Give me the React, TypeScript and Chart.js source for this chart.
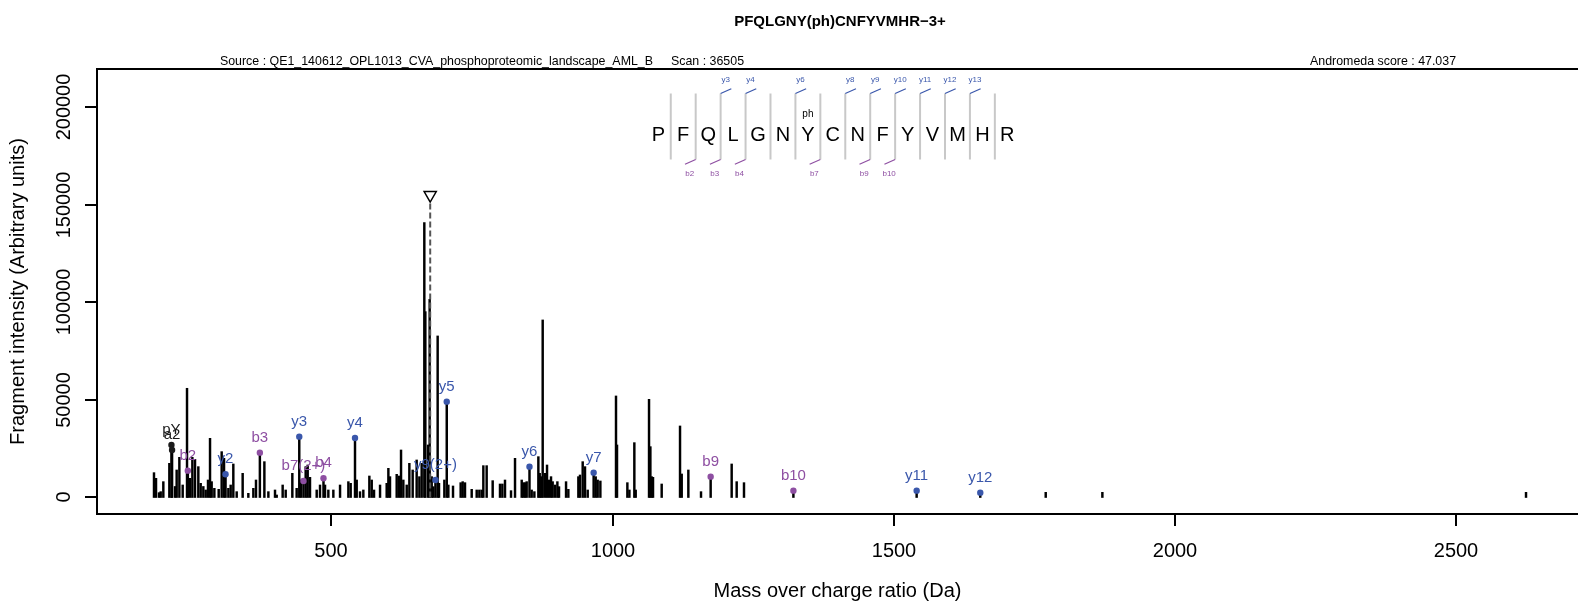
import React, { useEffect, useRef } from 'react';
import { Chart, registerables } from 'chart.js';

Chart.register(...registerables);

// ---------- text ----------
const TITLE = 'PFQLGNY(ph)CNFYVMHR\u22123+';
const SOURCE = 'Source : QE1_140612_OPL1013_CVA_phosphoproteomic_landscape_AML_B';
const SCAN = 'Scan : 36505';
const SCORE = 'Andromeda score : 47.037';
const X_LABEL = 'Mass over charge ratio (Da)';
const Y_LABEL = 'Fragment intensity (Arbitrary units)';

// ---------- axes ----------
const xTicks = [500, 1000, 1500, 2000, 2500];
const yTicks = [0, 50000, 100000, 150000, 200000];
const X_MIN = 83.7;
const X_MAX = 2716.1;
const Y_MIN = -8460;
const Y_MAX = 219630;

// ---------- spectrum peaks (unannotated) ----------
const peakMz = [
  185.0, 188.6, 193.9, 196.9, 201.6, 212.3, 222.4, 225.3, 230.1, 236.0,
  243.7, 249.0, 253.2, 257.9, 263.8, 268.0, 272.7, 276.9, 281.0, 284.6,
  287.5, 292.3, 300.0, 305.3, 309.5, 317.2, 321.3, 326.0, 332.0, 342.6,
  352.7, 361.6, 366.3, 381.2, 388.3, 400.1, 403.1, 413.7, 419.1, 430.9,
  438.6, 446.3, 454.6, 458.2, 462.3, 474.2, 480.1, 489.0, 494.9, 503.8,
  515.7, 530.5, 534.6, 545.3, 551.2, 557.1, 567.8, 572.0, 576.1, 586.8,
  598.6, 601.6, 604.5, 616.4, 620.5, 624.1, 628.2, 634.2, 638.9, 644.8,
  651.9, 656.7, 660.8, 665.5, 667.3, 672.1, 675.0, 678.6, 681.5, 689.2,
  691.6, 701.1, 708.2, 716.5, 730.1, 733.7, 737.8, 749.7, 758.6, 763.3,
  767.5, 770.4, 776.3, 787.0, 800.0, 804.2, 808.9, 819.6, 826.7, 838.6,
  841.5, 844.5, 847.4, 856.3, 861.1, 868.2, 870.6, 873.5, 875.9, 880.0,
  883.6, 887.1, 890.7, 893.6, 897.8, 902.0, 904.9, 917.4, 921.5, 939.3,
  942.2, 947.0, 951.1, 955.9, 970.1, 973.6, 978.4, 1006.2, 1008.0, 1026.4,
  1030.0, 1038.8, 1041.2, 1064.9, 1067.3, 1069.6, 1072.0, 1087.4, 1120.0, 1123.0,
  1134.8, 1157.3, 1211.8, 1220.7, 1233.7, 1770.0, 1870.7, 2623.7,
];
const peakIntensity = [
  12730, 9830, 2480, 2990, 8120, 17520, 5640, 14100, 20590, 6410,
  55970, 9830, 20590, 19570, 15810, 7260, 5640, 3850, 8970, 30330,
  8120, 4700, 4190, 23500, 20080, 4700, 6410, 17180, 2990, 12390,
  2140, 4700, 8970, 18370, 2990, 3850, 1280, 6410, 3850, 12390,
  4700, 8970, 15810, 16660, 10340, 3850, 6410, 6410, 3850, 3850,
  6410, 8120, 7260, 8970, 2990, 3850, 11020, 8970, 3850, 6410,
  7260, 14950, 10680, 11880, 11020, 24350, 8970, 6410, 17520, 14100,
  19230, 10680, 17520, 140900, 95260, 26920, 101600, 10680, 5550, 82800,
  7260, 8970, 6410, 5900, 7600, 8120, 7600, 4190, 3850, 3850,
  3850, 16320, 16320, 8630, 6920, 6920, 8970, 3500, 20080, 8970,
  7600, 7600, 8120, 3850, 2990, 20930, 12390, 10680, 91000, 12390,
  16660, 8970, 10680, 8120, 6410, 8120, 5550, 8120, 4190, 10680,
  11540, 18370, 15810, 3850, 10680, 8970, 8460, 52040, 26920, 7600,
  3850, 28110, 3850, 50330, 26060, 10680, 10340, 6920, 36660, 12050,
  14100, 2990, 17180, 8120, 7600, 2650, 2650, 2650,
];

// ---------- annotated fragment ions ----------
const ionLabels = ['pY', 'a2', 'b2', 'y2', 'b3', 'y3', 'b7(2+)', 'b4', 'y4', 'y9(2+)', 'y5', 'y6', 'y7', 'b9', 'b10', 'y11', 'y12'];
const ionMz = [216.04, 217.13, 245.13, 312.18, 373.19, 443.22, 450.69, 486.27, 542.29, 685.26, 705.35, 852.42, 966.46, 1174.44, 1321.51, 1540.58, 1653.67];
const ionIntensity = [26920, 24350, 13760, 11880, 22990, 31190, 8460, 9830, 30500, 8970, 49130, 15810, 12730, 10680, 3500, 3500, 2480];
const ionType = ['other', 'other', 'b', 'y', 'b', 'y', 'b', 'b', 'y', 'y', 'y', 'y', 'y', 'b', 'b', 'y', 'y'];

// ---------- precursor ----------
const precursorMz = 675.95;
const precursorLineTop = 151000;
const precursorMarker = 155000;

// ---------- peptide coverage ----------
const sequence = ['P', 'F', 'Q', 'L', 'G', 'N', 'Y', 'C', 'N', 'F', 'Y', 'V', 'M', 'H', 'R'];
const modPosition = 7;
const modLabel = 'ph';
const yCoverage = [3, 4, 6, 8, 9, 10, 11, 12, 13];
const bCoverage = [2, 3, 4, 7, 9, 10];

const COLORS: Record<string, string> = { b: '#8E4FA2', y: '#3A57AB', other: '#1a1a1a' };
const FONT = '"Liberation Sans", Arial, Helvetica, sans-serif';

const decorPlugin = {
  id: 'decor',
  afterDatasetsDraw(chart: any) {
    const { ctx, chartArea: a } = chart;
    const xs = chart.scales.x;
    const ys = chart.scales.y;
    ctx.save();

    // ion labels
    ctx.font = `15px ${FONT}`;
    ctx.textAlign = 'center';
    ctx.textBaseline = 'alphabetic';
    ionLabels.forEach((lab, i) => {
      const px = xs.getPixelForValue(ionMz[i]);
      const py = ys.getPixelForValue(ionIntensity[i]);
      ctx.fillStyle = COLORS[ionType[i]];
      ctx.fillText(lab, px, py - 11);
    });

    // box (left, top, bottom; the right side falls at the device edge)
    ctx.strokeStyle = '#000';
    ctx.lineWidth = 2;
    ctx.beginPath();
    ctx.moveTo(a.right + 2, a.top);
    ctx.lineTo(a.left, a.top);
    ctx.lineTo(a.left, a.bottom);
    ctx.lineTo(a.right + 2, a.bottom);
    ctx.stroke();

    // x axis
    ctx.fillStyle = '#000';
    ctx.font = `20px ${FONT}`;
    ctx.textAlign = 'center';
    ctx.textBaseline = 'alphabetic';
    xTicks.forEach((v) => {
      const px = Math.round(xs.getPixelForValue(v));
      ctx.beginPath();
      ctx.moveTo(px, a.bottom);
      ctx.lineTo(px, a.bottom + 12);
      ctx.stroke();
      ctx.fillText(String(v), px, 557);
    });
    ctx.fillText(X_LABEL, (a.left + a.right) / 2, 597);

    // y axis
    yTicks.forEach((v) => {
      const py = Math.round(ys.getPixelForValue(v));
      ctx.beginPath();
      ctx.moveTo(a.left, py);
      ctx.lineTo(a.left - 12, py);
      ctx.stroke();
      ctx.save();
      ctx.translate(70, py);
      ctx.rotate(-Math.PI / 2);
      ctx.fillText(String(v), 0, 0);
      ctx.restore();
    });
    ctx.save();
    ctx.translate(24, (a.top + a.bottom) / 2);
    ctx.rotate(-Math.PI / 2);
    ctx.fillText(Y_LABEL, 0, 0);
    ctx.restore();

    // titles
    ctx.font = `bold 15px ${FONT}`;
    ctx.fillText(TITLE, 840, 26);
    ctx.font = `12.4px ${FONT}`;
    ctx.textAlign = 'right';
    ctx.fillText(SOURCE, 653, 65);
    ctx.textAlign = 'left';
    ctx.fillText(SCAN, 671, 65);
    ctx.fillText(SCORE, 1310, 65);

    // peptide coverage map
    const x0 = 658.3;
    const step = 24.93;
    const sepTop = 93.5;
    const sepBottom = 159.5;
    ctx.strokeStyle = '#c8c8c8';
    ctx.lineWidth = 2;
    for (let k = 1; k < sequence.length; k++) {
      const sx = x0 + step * (k - 0.5);
      ctx.beginPath();
      ctx.moveTo(sx, sepTop);
      ctx.lineTo(sx, sepBottom);
      ctx.stroke();
    }
    ctx.fillStyle = '#000';
    ctx.font = `20px ${FONT}`;
    ctx.textAlign = 'center';
    sequence.forEach((aa, i) => ctx.fillText(aa, x0 + step * i, 140.5));
    ctx.font = `10px ${FONT}`;
    ctx.fillText(modLabel, x0 + step * (modPosition - 1), 117);

    ctx.lineWidth = 1.2;
    ctx.font = `8px ${FONT}`;
    ctx.strokeStyle = COLORS.y;
    ctx.fillStyle = COLORS.y;
    yCoverage.forEach((k) => {
      const sx = x0 + step * (k - 0.5);
      ctx.beginPath();
      ctx.moveTo(sx, sepTop);
      ctx.lineTo(sx + 10.7, sepTop - 4.7);
      ctx.stroke();
      ctx.fillText('y' + k, sx + 5, 82);
    });
    ctx.strokeStyle = COLORS.b;
    ctx.fillStyle = COLORS.b;
    bCoverage.forEach((k) => {
      const sx = x0 + step * (k - 0.5);
      ctx.beginPath();
      ctx.moveTo(sx, sepBottom);
      ctx.lineTo(sx - 10.7, sepBottom + 4.7);
      ctx.stroke();
      ctx.fillText('b' + k, sx - 6, 175.5);
    });

    ctx.restore();
  },
};

export default function App() {
  const canvasRef = useRef<HTMLCanvasElement | null>(null);

  useEffect(() => {
    const canvas = canvasRef.current;
    if (!canvas) return;

    const peaks = peakMz.map((m, i) => ({ x: m, y: peakIntensity[i] }));
    ionMz.forEach((m, i) => peaks.push({ x: m, y: ionIntensity[i] }));
    peaks.sort((p, q) => p.x - q.x);

    const ionSets = ['b', 'y', 'other'].map((t) => ({
      type: 'scatter' as const,
      data: ionMz.map((m, i) => ({ x: m, y: ionIntensity[i] })).filter((_, i) => ionType[i] === t),
      backgroundColor: COLORS[t],
      borderColor: COLORS[t],
      pointRadius: 3.2,
      pointBorderWidth: 0,
      order: 0,
    }));

    const chart = new Chart(canvas, {
      type: 'bar',
      data: {
        datasets: [
          ...ionSets,
          {
            type: 'scatter' as const,
            data: [{ x: precursorMz, y: precursorMarker }],
            pointStyle: 'triangle',
            rotation: 180,
            pointRadius: 7,
            backgroundColor: '#ffffff',
            borderColor: '#000000',
            pointBorderWidth: 1.5,
            order: 1,
          },
          {
            type: 'line' as const,
            data: [
              { x: precursorMz, y: 0 },
              { x: precursorMz, y: precursorLineTop },
            ],
            borderColor: '#555555',
            borderWidth: 2,
            borderDash: [6, 3],
            pointRadius: 0,
            order: 2,
          },
          {
            type: 'bar' as const,
            data: peaks,
            backgroundColor: '#000000',
            borderWidth: 0,
            barThickness: 1.8,
            order: 3,
          } as any,
        ],
      },
      options: {
        responsive: false,
        animation: false,
        events: [],
        layout: { autoPadding: false, padding: { left: 97, top: 69, right: 0, bottom: 97 } },
        plugins: { legend: { display: false }, tooltip: { enabled: false }, title: { display: false } },
        scales: {
          x: { type: 'linear', min: X_MIN, max: X_MAX, offset: false, display: false },
          y: { type: 'linear', min: Y_MIN, max: Y_MAX, display: false },
        },
      },
      plugins: [decorPlugin],
    } as any);

    return () => chart.destroy();
  }, []);

  return (
    <div style={{ position: 'absolute', left: 0, top: 0, width: 1578, height: 611, background: '#fff' }}>
      <canvas ref={canvasRef} width={1578} height={611} style={{ display: 'block' }} />
    </div>
  );
}
